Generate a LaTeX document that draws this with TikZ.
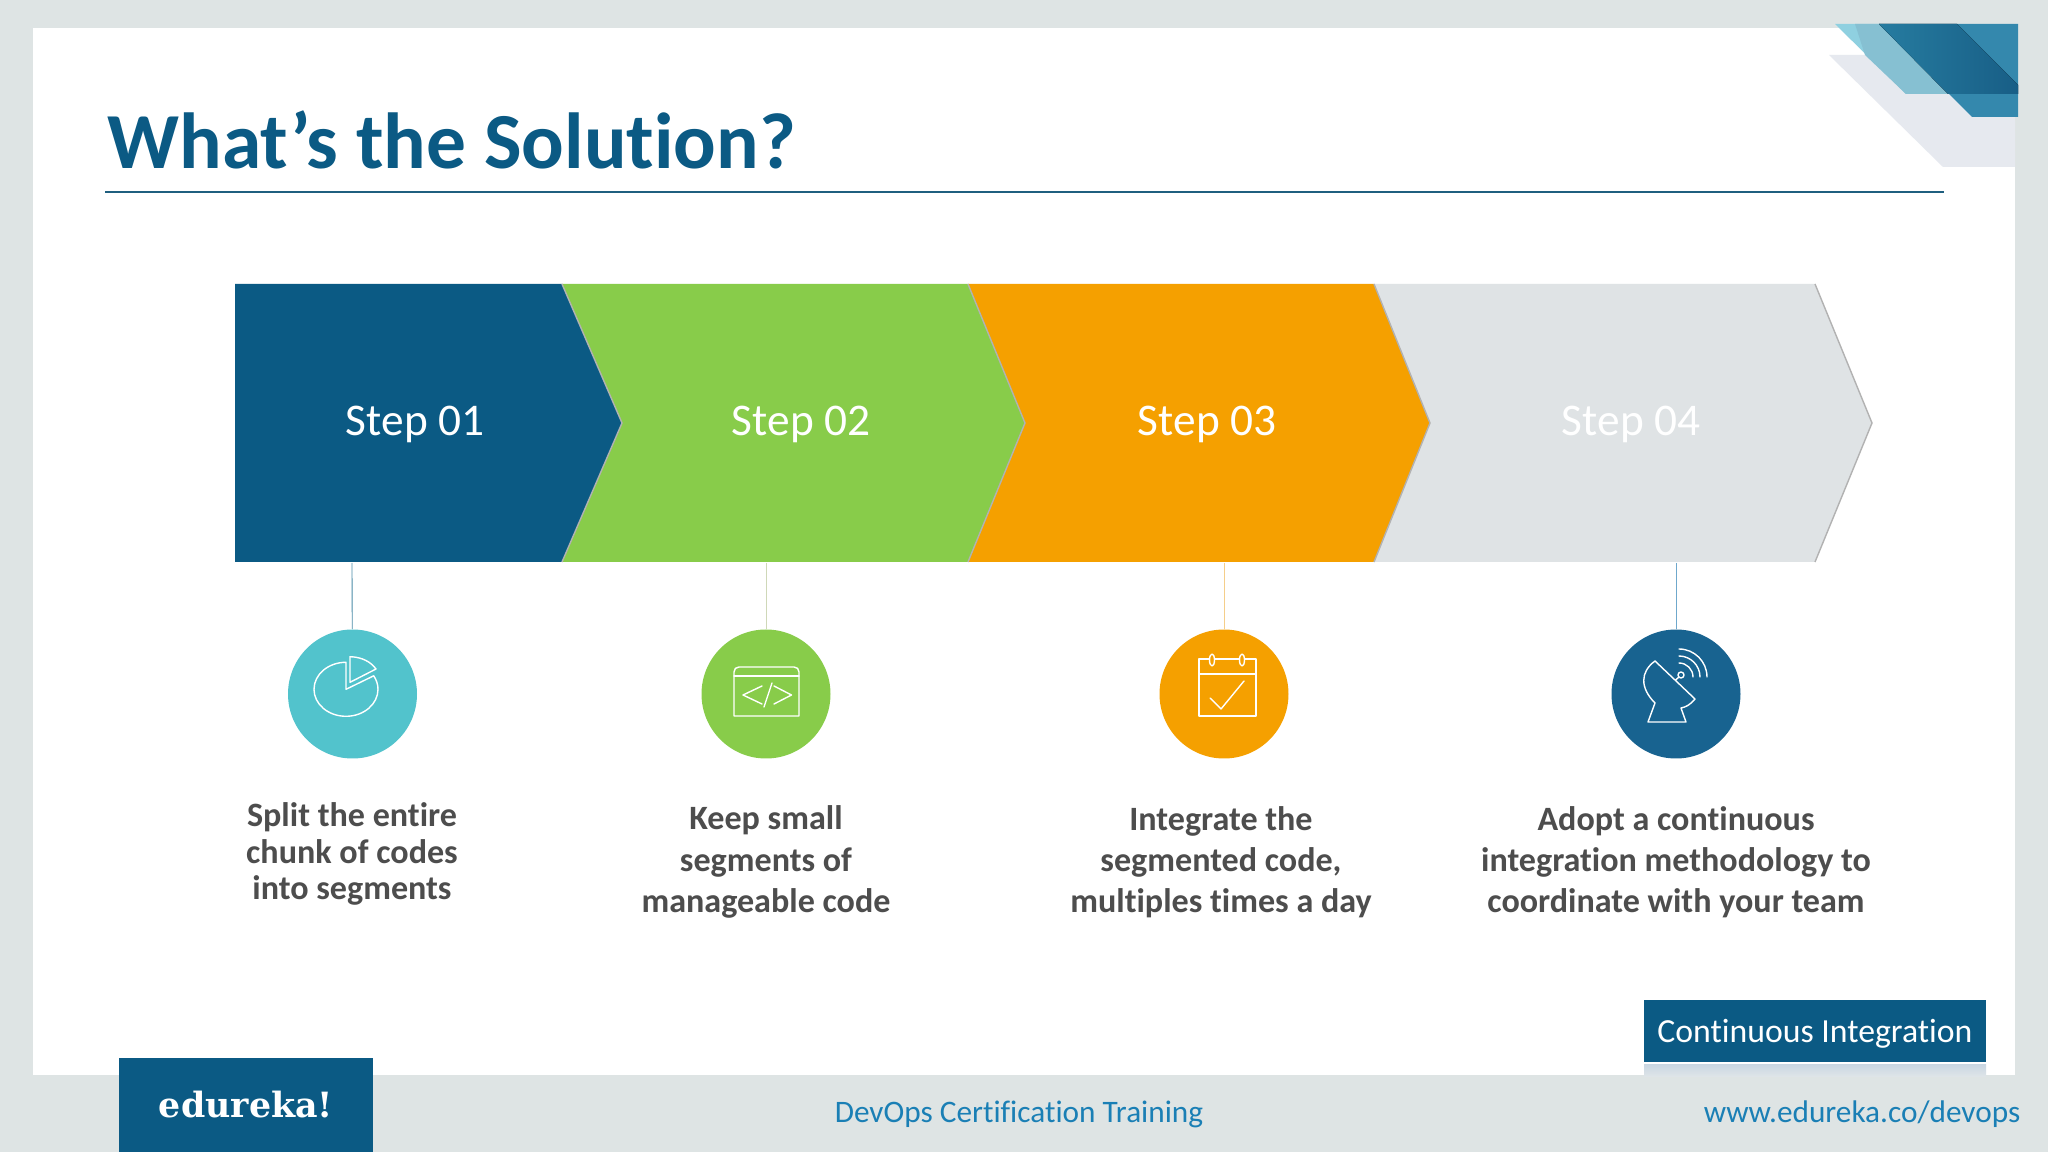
\documentclass[tikz,border=0pt]{standalone}
\usepackage{fontspec}
\usepackage{xcolor}
\usepackage{tikz}
\setmainfont{Carlito}[Ligatures=NoCommon]
\newfontfamily\logofont{DejaVu Serif}
\definecolor{frame}{HTML}{DEE4E4}
\definecolor{navy}{HTML}{0B5A84}
\definecolor{leaf}{HTML}{88CC4A}
\definecolor{amber}{HTML}{F5A000}
\definecolor{mist}{HTML}{DFE3E5}
\definecolor{teal}{HTML}{52C3CC}
\definecolor{ocean}{HTML}{186390}
\definecolor{body}{HTML}{4D4D4D}
\definecolor{linkblue}{HTML}{1A7FB5}
\tikzset{
  chevron/.style={line width=0pt},
  edgeline/.style={draw=#1, line width=0.4pt},
  steplab/.style={text=white, font=\fontsize{12.9}{15}\selectfont},
  disc/.style={circle, minimum size=1.29cm, inner sep=0pt},
  link/.style={line width=0.25pt},
  glyph/.style={draw=white, line width=0.4pt, line join=round, line cap=round},
  note/.style={text=body, align=center, font=\fontsize{9.7}{11.7}\selectfont\bfseries},
  smallnote/.style={text=body, align=center, font=\fontsize{9.7}{10.5}\selectfont\bfseries},
  foot/.style={text=linkblue, font=\fontsize{8.9}{10}\selectfont},
}
\begin{document}
\begin{tikzpicture}
  \useasboundingbox (0,0) rectangle (20.48,-11.52);
  \fill[frame] (0,0) rectangle (20.48,-11.52);
  \fill[white] (0.33,-0.28) rectangle (20.15,-10.75);

  \fill[color={rgb,255:red,230;green,233;blue,239}] (18.29,-0.55) -- (20.15,-0.55) -- (20.15,-1.67) -- (19.43,-1.67) -- cycle;
  \fill[color={rgb,255:red,143;green,208;blue,224}] (18.35,-0.24) -- (18.80,-0.24) -- (19.48,-0.94) -- (19.06,-0.94) -- cycle;
  \fill[color={rgb,255:red,134;green,192;blue,210}] (18.55,-0.24) -- (18.80,-0.24) -- (19.48,-0.94) -- (19.06,-0.94) -- (18.65,-0.55) -- cycle;
  \fill[color={rgb,255:red,52;green,136;blue,173}] (18.79,-0.24) -- (20.18,-0.24) -- (20.18,-1.17) -- (19.72,-1.17) -- cycle;
  \fill[left color={rgb,255:red,38;green,124;blue,160}, right color={rgb,255:red,24;green,94;blue,134}] (18.79,-0.24) -- (19.57,-0.24) -- (20.18,-0.85) -- (20.18,-0.94) -- (19.48,-0.94) -- cycle;

  \node[anchor=base west, text=navy, font=\fontsize{22.6}{26}\selectfont\bfseries, inner sep=0pt] (title) at (1.07,-1.69) {What’s the Solution?};
  \draw[color={rgb,255:red,31;green,95;blue,127}, line width=0.6pt] (1.05,-1.92) -- (19.44,-1.92);

  \fill[chevron, mist] (13.74,-2.84) -- (18.15,-2.84) -- (18.72,-4.23) -- (18.15,-5.62) -- (13.74,-5.62) -- (14.30,-4.23) -- cycle;
  \draw[edgeline={black!30}] (18.15,-2.84) -- (18.72,-4.23) -- (18.15,-5.62);
  \fill[chevron, amber] (9.68,-2.84) -- (13.74,-2.84) -- (14.30,-4.23) -- (13.74,-5.62) -- (9.68,-5.62) -- (10.25,-4.23) -- cycle;
  \draw[edgeline={black!30}] (13.74,-2.84) -- (14.30,-4.23) -- (13.74,-5.62);
  \fill[chevron, leaf] (5.62,-2.84) -- (9.68,-2.84) -- (10.25,-4.23) -- (9.68,-5.62) -- (5.62,-5.62) -- (6.22,-4.23) -- cycle;
  \draw[edgeline={black!30}] (9.68,-2.84) -- (10.25,-4.23) -- (9.68,-5.62);
  \fill[chevron, navy] (2.35,-2.84) -- (5.62,-2.84) -- (6.22,-4.23) -- (5.62,-5.62) -- (2.35,-5.62) -- cycle;
  \draw[edgeline={black!30}] (5.62,-2.84) -- (6.22,-4.23) -- (5.62,-5.62);

  \node[steplab] (step1) at (4.15,-4.24) {Step 01};
  \node[steplab] (step2) at (8.01,-4.24) {Step 02};
  \node[steplab] (step3) at (12.07,-4.24) {Step 03};
  \node[steplab] (step4) at (16.31,-4.24) {Step 04};

  \coordinate (top1) at (3.52,-5.63);
  \coordinate (top2) at (7.66,-5.63);
  \coordinate (top3) at (12.24,-5.63);
  \coordinate (top4) at (16.76,-5.63);
  \node[disc, fill=teal] (disc1) at (3.525,-6.94) {};
  \node[disc, fill=leaf] (disc2) at (7.66,-6.94) {};
  \node[disc, fill=amber] (disc3) at (12.24,-6.94) {};
  \node[disc, fill=ocean] (disc4) at (16.76,-6.94) {};
  \draw[link, color={rgb,255:red,76;green,140;blue,168}] (top1) -- (disc1);
  \draw[link, color={rgb,255:red,207;green,216;blue,184}] (top2) -- (disc2);
  \draw[link, color={rgb,255:red,245;green,206;blue,138}] (top3) -- (disc3);
  \draw[link, color={rgb,255:red,111;green,168;blue,204}] (top4) -- (disc4);

  \draw[glyph] (3.46,-6.893) -- (3.46,-6.623) arc[start angle=90, end angle=390, x radius=0.32, y radius=0.27] -- cycle;
  \draw[glyph] (3.50,-6.823) -- (3.50,-6.567) .. controls (3.62,-6.57) and (3.71,-6.62) .. (3.76,-6.69) -- cycle;

  \draw[glyph] (7.34,-7.16) -- (7.34,-6.72) .. controls (7.34,-6.69) and (7.36,-6.67) .. (7.39,-6.67) -- (7.94,-6.67) .. controls (7.97,-6.67) and (7.99,-6.69) .. (7.99,-6.72) -- (7.99,-7.16) -- cycle;
  \draw[glyph] (7.34,-6.76) -- (7.99,-6.76);
  \draw[glyph] (7.62,-6.86) -- (7.43,-6.95) -- (7.62,-7.04);
  \draw[glyph] (7.72,-6.83) -- (7.64,-7.07);
  \draw[glyph] (7.74,-6.86) -- (7.915,-6.95) -- (7.74,-7.04);

  \draw[glyph] (11.99,-6.59) rectangle (12.56,-7.16);
  \draw[glyph] (11.99,-6.74) -- (12.56,-6.74);
  \draw[glyph, fill=amber] (12.12,-6.60) ellipse[x radius=0.025, y radius=0.06];
  \draw[glyph, fill=amber] (12.42,-6.60) ellipse[x radius=0.025, y radius=0.06];
  \draw[glyph] (12.10,-6.98) -- (12.21,-7.09) -- (12.44,-6.81);

  \draw[glyph] (16.55,-6.61) -- (16.95,-6.99) .. controls (16.90,-7.05) and (16.86,-7.07) .. (16.81,-7.08) -- (16.86,-7.22) -- (16.48,-7.22) -- (16.55,-7.03) .. controls (16.40,-6.88) and (16.40,-6.72) .. (16.55,-6.61) -- cycle;
  \draw[glyph] (16.81,-6.75) circle[radius=0.03];
  \draw[glyph] (16.79,-6.77) -- (16.756,-6.80);
  \draw[glyph] (16.79,-6.63) arc[start angle=90, end angle=0, radius=0.14];
  \draw[glyph] (16.79,-6.56) arc[start angle=90, end angle=0, radius=0.21];
  \draw[glyph] (16.79,-6.49) arc[start angle=90, end angle=0, radius=0.28];

  \node[smallnote] (note1) at (3.52,-8.54) {Split the entire\\chunk of codes\\into segments};
  \node[note] (note2) at (7.66,-8.62) {Keep small\\segments of\\manageable code};
  \node[note] (note3) at (12.21,-8.62) {Integrate the\\segmented code,\\multiples times a day};
  \node[note] (note4) at (16.76,-8.62) {Adopt a continuous\\integration methodology to\\coordinate with your team};

  \fill[bottom color={rgb,255:red,222;green,228;blue,232}, top color={rgb,255:red,200;green,214;blue,226}] (16.44,-10.64) rectangle (19.86,-10.76);
  \node[fill=navy, minimum width=3.42cm, minimum height=0.62cm, inner sep=0pt] (badge) at (18.15,-10.31) {};
  \node[text=white, font=\fontsize{9.6}{11}\selectfont] (badgelab) at (18.15,-10.34) {Continuous Integration};

  \node[fill=navy, minimum width=2.54cm, minimum height=0.94cm, inner sep=0pt, text=white, font=\fontsize{9.9}{10}\logofont\bfseries] (logo) at (2.46,-11.05) {edureka!};
  \node[foot] (course) at (10.19,-11.14) {DevOps Certification Training};
  \node[foot, anchor=east, inner sep=0pt] (site) at (20.21,-11.14) {www.edureka.co/devops};
\end{tikzpicture}
\end{document}
